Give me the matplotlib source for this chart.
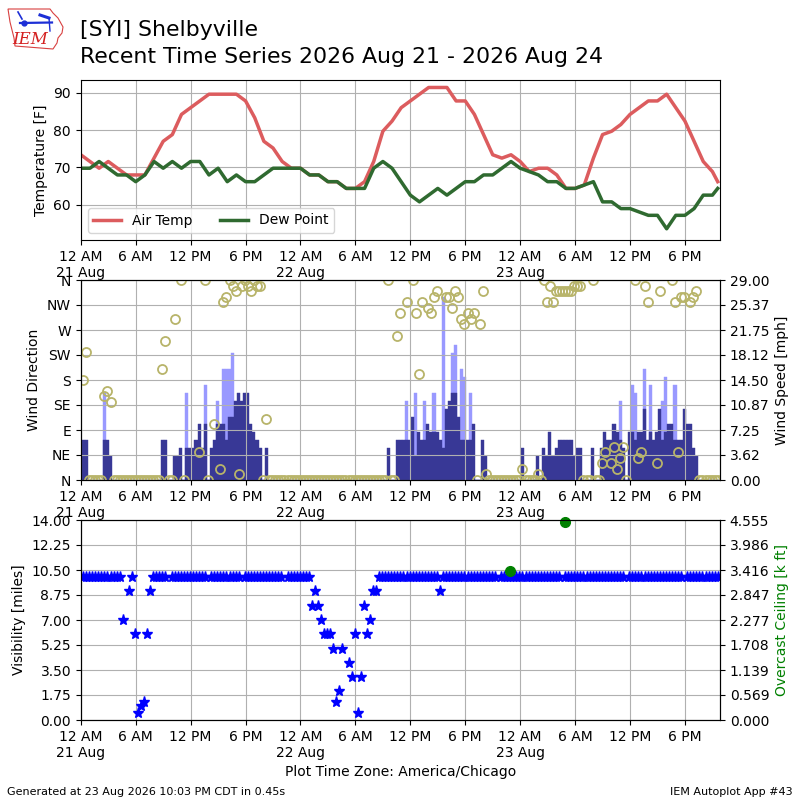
import numpy as np
import matplotlib
matplotlib.use("Agg")
import matplotlib.pyplot as plt
from matplotlib.patches import Polygon
from matplotlib.ticker import FormatStrFormatter

nan = np.nan

# hourly air temperature and dew point [F], hours after 21 Aug 00:00 CDT
temp_hours = list(range(70)) + [69.58]
temp_f = [73.4, 71.6, 69.8, 71.6, 69.8, 68.0, 68.0, 68.0, 72.5, 77.0, 78.8, 84.2,
          86.0, 87.8, 89.6, 89.6, 89.6, 89.6, 87.8, 83.3, 77.0, 75.2, 71.6, 69.8,
          69.8, 68.0, 68.0, 66.2, 66.2, 64.4, 64.4, 66.2, 71.6, 79.7, 82.4, 86.0,
          87.8, 89.6, 91.4, 91.4, 91.4, 87.8, 87.8, 84.2, 78.8, 73.4, 72.5, 73.4,
          71.6, 68.9, 69.8, 69.8, 68.0, 64.4, 64.4, 65.3, 72.5, 78.8, 79.7, 81.5,
          84.2, 86.0, 87.8, 87.8, 89.6, 86.0, 82.4, 77.0, 71.6, 68.9, 66.2]
dewp_f = [69.8, 69.8, 71.6, 69.8, 68.0, 68.0, 66.2, 68.0, 71.6, 69.8, 71.6, 69.8,
          71.6, 71.6, 68.0, 69.8, 66.2, 68.0, 66.2, 66.2, 68.0, 69.8, 69.8, 69.8,
          69.8, 68.0, 68.0, 66.2, 66.2, 64.4, 64.4, 64.4, 69.8, 71.6, 69.8, 66.2,
          62.6, 60.8, 62.6, 64.4, 62.6, 64.4, 66.2, 66.2, 68.0, 68.0, 69.8, 71.6,
          69.8, 68.9, 68.0, 66.2, 66.2, 64.4, 64.4, 65.3, 66.2, 60.8, 60.8, 59.0,
          59.0, 58.1, 57.2, 57.2, 53.6, 57.2, 57.2, 59.0, 62.6, 62.6, 64.4]

# 20 minute observations (xx:15, xx:35, xx:55), one row = 6 hours
sknt = [5, 5, 0, 0, 0, 0, 0, 5, 5, 3, 0, 0, 0, 0, 0, 0, 0, 0,
        0, 0, 0, 0, 0, 0, 0, 0, 5, 5, 0, 0, 3, 3, 4, 0, 4, 4,
        4, 5, 7, 4, 7, 0, 4, 5, 7, 7, 7, 5, 8, 8, 10, 11, 10, 11,
        11, 7, 6, 5, 4, 0, 4, 0, 0, 0, 0, 0, 0, 0, 0, 0, 0, 0,
        0, 0, 0, 0, 0, 0, 0, 0, 0, 0, 0, 0, 0, 0, 0, 0, 0, 0,
        0, 0, 0, 0, 0, 0, 0, 0, 0, 0, 4, 0, 0, 5, 5, 5, 5, 5,
        8, 3, 6, 5, 5, 7, 6, 6, 6, 5, 4, 9, 10, 11, 11, 8, 5, 5,
        5, 5, 7, 0, 0, 5, 3, 0, 0, 0, 0, 0, 0, 0, 0, 0, 0, 0,
        4, 0, 0, 0, 0, 3, 0, 4, 3, 6, 3, 4, 5, 5, 5, 5, 5, 3,
        4, 4, 0, 0, 0, 4, 0, 0, 4, 6, 5, 5, 7, 6, 5, 4, 0, 6,
        6, 5, 6, 6, 9, 5, 6, 5, 6, 9, 5, 6, 7, 7, 5, 5, 5, 9,
        7, 7, 4, 3, 0, 0, 0, 0, 0, 0, 0]
gust = [0, 0, 0, 0, 0, 0, 0, 11, 0, 0, 0, 0, 0, 0, 0, 0, 0, 0,
        0, 0, 0, 0, 0, 0, 0, 0, 0, 0, 0, 0, 0, 0, 0, 0, 11, 0,
        0, 0, 0, 0, 12, 0, 0, 0, 10, 0, 14, 14, 14, 16, 0, 0, 0, 0,
        0, 0, 0, 0, 0, 0, 0, 0, 0, 0, 0, 0, 0, 0, 0, 0, 0, 0,
        0, 0, 0, 0, 0, 0, 0, 0, 0, 0, 0, 0, 0, 0, 0, 0, 0, 0,
        0, 0, 0, 0, 0, 0, 0, 0, 0, 0, 0, 0, 0, 0, 0, 0, 10, 0,
        0, 11, 0, 0, 10, 0, 0, 11, 0, 0, 23, 0, 0, 16, 17, 0, 14, 13,
        0, 11, 0, 0, 0, 0, 0, 0, 0, 0, 0, 0, 0, 0, 0, 0, 0, 0,
        0, 0, 0, 0, 0, 0, 0, 0, 0, 0, 0, 0, 0, 0, 0, 0, 0, 0,
        0, 0, 0, 0, 0, 0, 0, 0, 0, 0, 0, 0, 0, 0, 10, 0, 0, 0,
        12, 11, 0, 0, 14, 0, 12, 0, 0, 0, 10, 13, 0, 0, 12, 0, 0, 0,
        0, 0, 0, 0, 0, 0, 0, 0, 0, 0, 0]
drct = [180, 230, 0, 0, 0, 0, 0, 151, 161, 140, 0, 0, 0, 0, 0, 0, 0, 0,
        0, 0, 0, 0, 0, 0, 0, 0, 200, 250, 0, 0, 290, nan, 360, 0, nan, nan,
        nan, nan, 50, nan, 360, 0, nan, 100, nan, 20, 320, 330, 360, 350, 340, 10, 350, 360,
        350, 340, 360, 350, 350, 0, 110, 0, 0, 0, 0, 0, 0, 0, 0, 0, 0, 0,
        0, 0, 0, 0, 0, 0, 0, 0, 0, 0, 0, 0, 0, 0, 0, 0, 0, 0,
        0, 0, 0, 0, 0, 0, 0, 0, 0, 0, 360, 0, 0, 260, 300, nan, 320, nan,
        360, 300, 190, 320, nan, 310, 300, 330, 340, nan, nan, 330, 330, 310, 340, 330, 290, 280,
        300, 290, 300, 0, 280, 340, 10, 0, 0, 0, 0, 0, 0, 0, 0, 0, 0, 0,
        20, 0, 0, 0, 0, 10, 0, 360, 320, 350, 320, 340, 340, 340, 340, 340, 340, 350,
        350, 350, 0, 0, 0, 360, 0, 0, 30, 50, nan, 30, 60, 20, 40, 60, 0, nan,
        nan, 360, 40, 50, 350, 320, nan, nan, 30, 340, nan, nan, nan, 360, 320, 50, 330, 330,
        nan, 320, 330, 340, 0, 0, 0, 0, 0, 0, 0]
vsby = [10, 10, 10, 10, 10, 10, 10, 10, 10, 10, 10, 10, 10, 7, nan, 9, 10, 6,
        0.5, 1, 1.25, 6, 9, 10, 10, 10, 10, 10, nan, 10, 10, 10, 10, 10, 10, 10,
        10, 10, 10, 10, 10, nan, 10, 10, 10, 10, 10, 10, 10, 10, 10, 10, nan, 10,
        10, 10, 10, 10, 10, 10, 10, 10, 10, 10, 10, 10, nan, 10, 10, 10, 10, 10,
        10, 10, 10, 8, 9, 8, 7, 6, 6, 6, 5, 1.25, 2, 5, nan, 4, 3, 6,
        0.5, 3, 8, 6, 7, 9, 9, 10, 10, 10, 10, 10, 10, 10, 10, 10, 10, 10,
        10, 10, 10, 10, 10, 10, 10, 10, 10, 9, 10, 10, 10, 10, 10, 10, 10, 10,
        10, 10, 10, 10, 10, 10, 10, 10, 10, 10, nan, 10, 10, 10, 10, 10, 10, 10,
        10, 10, 10, 10, 10, 10, 10, 10, 10, 10, 10, 10, 10, nan, 10, 10, 10, 10,
        10, 10, 10, 10, 10, 10, 10, 10, 10, 10, 10, 10, 10, 10, 10, 10, nan, 10,
        10, 10, 10, 10, 10, 10, 10, 10, 10, 10, 10, 10, 10, 10, 10, 10, 10, nan,
        10, 10, 10, 10, 10, 10, 10, 10, 10, 10, 10]
ceil_slot = [140, 158]
ceil_kft = [3.4, 4.5]

tick_hours = [0, 6, 12, 18, 24, 30, 36, 42, 48, 54, 60, 66]
tick_labels = ["12 AM\n21 Aug", "6 AM", "12 PM", "6 PM",
               "12 AM\n22 Aug", "6 AM", "12 PM", "6 PM",
               "12 AM\n23 Aug", "6 AM", "12 PM", "6 PM"]
dir_labels = ["N", "NE", "E", "SE", "S", "SW", "W", "NW", "N"]

obs_hours = 0.25 + np.arange(len(sknt)) / 3.0
sknt_mph = np.array(sknt, dtype=float) * 1.15078
gust_mph = np.array(gust, dtype=float) * 1.15078
drct = np.array(drct, dtype=float)
vsby = np.array(vsby, dtype=float)
ceil_hours = obs_hours[ceil_slot]

fig = plt.figure(figsize=(8, 8), dpi=100)


def time_axis(ax):
    ax.set_xlim(0, 69.83)
    ax.set_xticks(tick_hours)
    ax.set_xticklabels(tick_labels)
    ax.grid(True)


# temperature panel
ax1 = fig.add_axes([0.101, 0.70, 0.799, 0.20])
ax1.plot(temp_hours, temp_f, color="#dc5c5e", lw=2.5, label="Air Temp")
ax1.plot(temp_hours, dewp_f, color="#2f6a30", lw=2.5, label="Dew Point")
ax1.set_ylim(50.6, 93.4)
ax1.set_yticks([60, 70, 80, 90])
ax1.set_ylabel("Temperature [F]")
time_axis(ax1)
ax1.legend(loc="lower left", ncol=2)

# wind panel
axd = fig.add_axes([0.101, 0.40, 0.799, 0.25])
axs = axd.twinx()
axs.bar(obs_hours, gust_mph, width=1 / 3.0, color="#9999ff",
        edgecolor="#9999ff", lw=0.3)
axs.bar(obs_hours, sknt_mph, width=1 / 3.0, color="#383896",
        edgecolor="#383896", lw=0.3)
axs.set_ylim(0, 28.998)
axs.set_yticks(np.linspace(0, 28.998, 9))
axs.yaxis.set_major_formatter(FormatStrFormatter("%.2f"))
axs.set_ylabel("Wind Speed [mph]")
axd.set_zorder(axs.get_zorder() + 1)
axd.patch.set_visible(False)
axd.plot(obs_hours, drct, "o", mfc="none", mec="#b8b46a", ms=6.5, mew=1.3)
axd.set_ylim(0, 360)
axd.set_yticks(range(0, 361, 45))
axd.set_yticklabels(dir_labels)
axd.set_ylabel("Wind Direction")
time_axis(axd)

# visibility / ceiling panel
axv = fig.add_axes([0.101, 0.10, 0.799, 0.25])
axc = axv.twinx()
axv.plot(obs_hours, vsby, "*", color="b", ms=8, ls="none")
axv.set_ylim(0, 14)
axv.set_yticks(np.linspace(0, 14, 9))
axv.yaxis.set_major_formatter(FormatStrFormatter("%.2f"))
axv.set_ylabel("Visibility [miles]")
time_axis(axv)
axv.set_xlabel("Plot Time Zone: America/Chicago")
axc.plot(ceil_hours, ceil_kft, "o", color="g", ms=7, clip_on=False)
axc.set_ylim(0, 4.555)
axc.set_yticks(np.linspace(0, 4.555, 9))
axc.yaxis.set_major_formatter(FormatStrFormatter("%.3f"))
axc.set_ylabel("Overcast Ceiling [k ft]", color="g")

# titles and footer
fig.text(0.1, 1 - 30 / 800, "[SYI] Shelbyville", fontsize=15.8, va="center")
fig.text(0.1, 1 - 57 / 800, "Recent Time Series 2026 Aug 21 - 2026 Aug 24",
         fontsize=15.8, va="center")
fig.text(0.009, 0.01, "Generated at 23 Aug 2026 10:03 PM CDT in 0.45s",
         fontsize=8, va="center")
fig.text(0.991, 0.01, "IEM Autoplot App #43", fontsize=8, ha="right",
         va="center")

# rough IEM logo
logo = fig.add_axes([0, 1 - 54 / 800, 70 / 800, 54 / 800])
logo.set_xlim(0, 70)
logo.set_ylim(54, 0)
logo.axis("off")
iowa = [(8, 9), (50, 9), (53, 13), (58, 18), (63, 27), (62, 33), (58, 38),
        (57, 43), (53, 49), (15, 46), (14, 38), (12, 30), (10, 22)]
logo.add_patch(Polygon(iowa, closed=True, fill=False, ec="#d84040", lw=0.8))
logo.text(30, 39, "IEM", color="#d42020", fontsize=12, style="italic",
          family="DejaVu Serif", ha="center", va="center")
logo.plot([20, 52], [23, 22.5], color="#1d2fd6", lw=1.6)
logo.plot([18, 22], [12, 19], color="#1d2fd6", lw=1.2)
logo.plot([40, 49], [15, 18], color="#1d2fd6", lw=2.2)
logo.plot([49, 50], [18, 31], color="#1d2fd6", lw=1.0)
logo.plot([24], [23], "o", color="#1d2fd6", ms=3.5)

fig.savefig("out.png", dpi=100)
